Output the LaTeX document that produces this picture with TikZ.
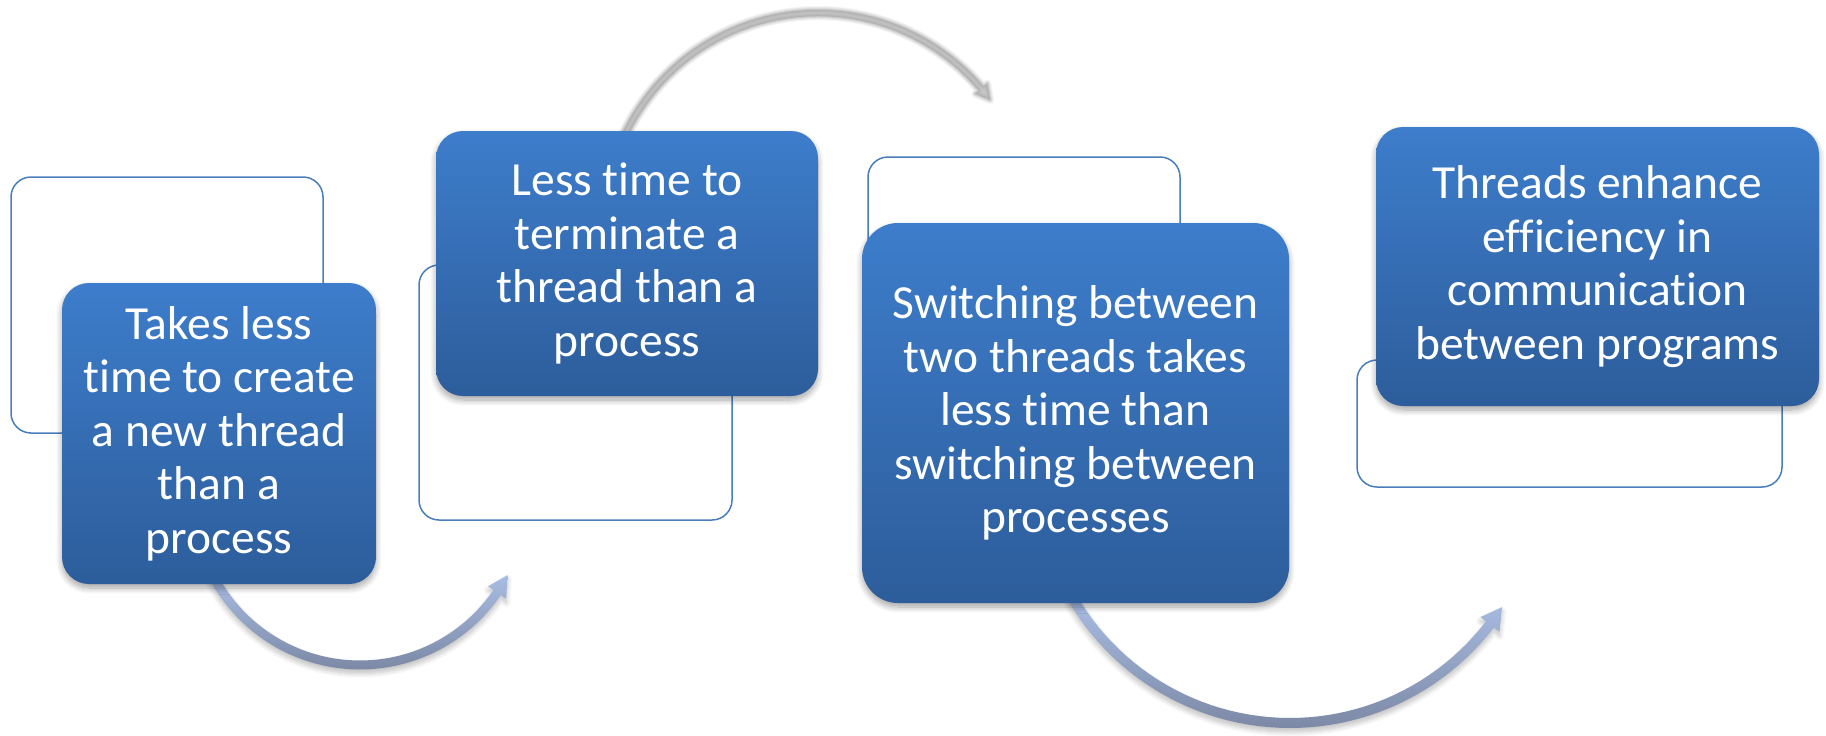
\documentclass[tikz,border=0pt]{standalone}
\usepackage{fontspec}
\setmainfont{Carlito}[Ligatures=NoCommon]
\usetikzlibrary{shadows.blur}

\definecolor{framecol}{HTML}{4A7EBB}
\definecolor{boxtop}{HTML}{3D7DCB}
\definecolor{boxbot}{HTML}{2D5D9B}
\definecolor{arrtop}{HTML}{AABEE4}
\definecolor{arrbot}{HTML}{7C89A6}
\definecolor{ghost}{HTML}{A2A2A2}

\tikzset{
  framebox/.style={draw=framecol, line width=1.5pt, rounded corners=20pt,
    inner sep=0pt, fill=none},
  stepbox/.style={rounded corners=27pt, inner sep=0pt, text=white, align=center,
    top color=boxtop, bottom color=boxbot, draw=none,
    font=\fontsize{47.5pt}{53.5pt}\selectfont,
    blur shadow={shadow xshift=0pt, shadow yshift=-4pt, shadow blur radius=6pt,
      shadow opacity=35, shadow blur steps=8}},
  bowshade/.style={top color=arrtop, bottom color=arrbot, draw=none,
    blur shadow={shadow xshift=0pt, shadow yshift=-4pt, shadow blur radius=5pt,
      shadow opacity=25, shadow blur steps=8}}
}

% curved arrow outline: centre x, centre y, radius, start angle, shaft end angle,
% tip angle, half shaft width, half head width
\newcommand\bowpath[8]{%
  plot[domain=#4:#5, samples=50] ({#1+(#3+#7)*cos(\x)},{#2+(#3+#7)*sin(\x)})
  -- ({#1+(#3+#8)*cos(#5)},{#2+(#3+#8)*sin(#5)})
  -- ({#1+#3*cos(#6)},{#2+#3*sin(#6)})
  -- ({#1+(#3-#8)*cos(#5)},{#2+(#3-#8)*sin(#5)})
  -- plot[domain=#5:#4, samples=50] ({#1+(#3-#7)*cos(\x)},{#2+(#3-#7)*sin(\x)})
  -- cycle}

\begin{document}
\begin{tikzpicture}[x=1pt, y=-1pt]
\useasboundingbox (0,0) rectangle (1826,736);

% outlined back frames
\node[framebox, minimum width=312pt, minimum height=256pt] (f1) at (167,305) {};
\node[framebox, minimum width=313pt, minimum height=255pt] (f2) at (575.5,392.5) {};
\node[framebox, minimum width=312pt, minimum height=263pt] (f3) at (1024,288.5) {};
\node[framebox, minimum width=425pt, minimum height=127pt] (f4) at (1569.5,423.5) {};

% upper grey arc between the second and third steps, softened by layered strokes
\foreach \lw/\op in {8/0.10, 6/0.15, 4/0.2, 2/0.3}{
  \draw[ghost, line width=\lw pt, line join=round, opacity=\op]
    \bowpath{818}{227}{214}{-156}{-40.3}{-36.4}{3.2}{8};
}
\fill[ghost, opacity=0.6] \bowpath{818}{227}{214}{-156}{-40.3}{-36.4}{3.2}{8};

% lower shaded arcs
\shade[bowshade] \bowpath{360}{499}{166}{153}{34.3}{27.3}{4.5}{11};
\shade[bowshade] \bowpath{1290}{471}{252}{150}{37.5}{32.7}{5}{12};

% filled steps
\node[stepbox, minimum width=314pt, minimum height=301pt] (s1) at (219,433.5)
  {Takes less\\time to create\\a new thread\\than a\\process};
\node[stepbox, minimum width=382pt, minimum height=265pt] (s2) at (627,263.5)
  {Less time to\\terminate a\\thread than a\\process};
\node[stepbox, rounded corners=36pt, minimum width=427pt, minimum height=380pt] (s3) at (1075.5,413)
  {Switching between\\two threads takes\\less time than\\switching between\\processes};
\node[stepbox, minimum width=443pt, minimum height=279pt] (s4) at (1597.5,266.5)
  {Threads enhance\\efficiency in\\communication\\between programs};
\end{tikzpicture}
\end{document}
